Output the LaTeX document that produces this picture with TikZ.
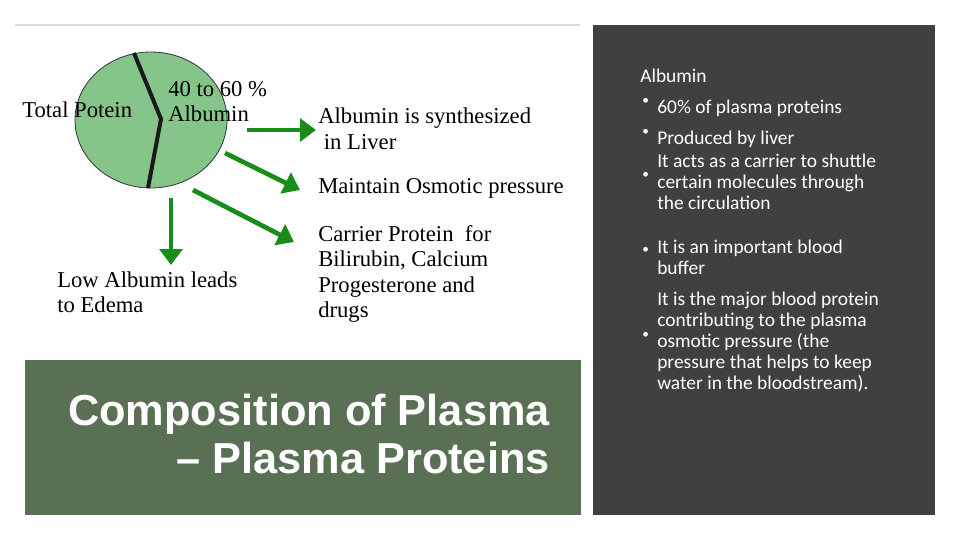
\documentclass[tikz,border=0pt]{standalone}
\usepackage{fontspec}
\setmainfont{Liberation Serif}
\newfontfamily\arialf{Liberation Sans}
\newfontfamily\calf{Carlito}
\usetikzlibrary{arrows.meta}
\begin{document}
\begin{tikzpicture}[x=0.75pt,y=-0.75pt,
  lbl/.style={anchor=west,font=\fontsize{17}{19}\selectfont,inner sep=0},
  garr/.style={draw=green!50!black!90,line width=3.5pt,-{Triangle[length=12pt,width=17pt]}},
  rt/.style={anchor=west,font=\calf\fontsize{14.6}{15.9}\selectfont,text=white,inner sep=0,align=left}]
\useasboundingbox (0,0) rectangle (960,540);
\fill[white] (0,0) rectangle (960,540);
\draw[gray!30,line width=0.8pt] (15,25) -- (580,25);
\fill[black!75] (593,25) rectangle (935,515);
\fill[fill={rgb,255:red,90;green,112;blue,85}] (25,360) rectangle (581,515);
\fill[fill={rgb,255:red,134;green,197;blue,138}, draw=black!80, line width=0.6pt] (151,120) ellipse [x radius=76, y radius=68];
\draw[black!90,line width=3pt] (134,53) -- (161,119) -- (148,188);
\coordinate (a1s) at (247,130); \coordinate (a1e) at (316,130);
\coordinate (a2s) at (225,153); \coordinate (a2e) at (300,190);
\coordinate (a3s) at (193,190); \coordinate (a3e) at (294,242);
\coordinate (a4s) at (171,198); \coordinate (a4e) at (171,265);
\draw[garr] (a1s) -- (a1e);
\draw[garr] (a2s) -- (a2e);
\draw[garr] (a3s) -- (a3e);
\draw[garr] (a4s) -- (a4e);
\node[lbl] (tp) at (22,110) {Total Potein};
\node[lbl] (p1) at (168,89) {40 to 60 \%};
\node[lbl] (p2) at (168,114) {Albumin};
\node[lbl] (s1) at (318,118) {Albumin is synthesized};
\node[lbl] (s2) at (318,142) {\ in Liver};
\node[lbl] (mo) at (318,188) {Maintain Osmotic pressure};
\node[lbl,anchor=north west,align=left,font=\fontsize{17}{19.1}\selectfont] (cp) at (318,225) {Carrier Protein\ \ for\\Bilirubin, Calcium\\Progesterone and\\drugs};
\node[lbl,anchor=north west,align=left,font=\fontsize{17}{19.1}\selectfont] (lo) at (57,271) {Low Albumin leads\\to Edema};
\node[anchor=north east,align=right,text=white,inner sep=0,font=\arialf\bfseries\fontsize{32.5}{36}\selectfont] (ti) at (550,394) {Composition of Plasma\\– Plasma Proteins};
\node[rt] (h) at (640,76) {Albumin};
\foreach \y/\t in {108/{60\% of plasma proteins},139/{Produced by liver},182/{It acts as a carrier to shuttle\\certain molecules through\\the circulation},257/{It is an important blood\\buffer},342/{It is the major blood protein\\contributing to the plasma\\osmotic pressure (the\\pressure that helps to keep\\water in the bloodstream).}}
  {\node[rt,anchor=north west,font=\calf\fontsize{10}{12}\selectfont] at (642,\y-10) {•}; \node[rt] at (657,\y) {\t};}
\end{tikzpicture}
\end{document}
